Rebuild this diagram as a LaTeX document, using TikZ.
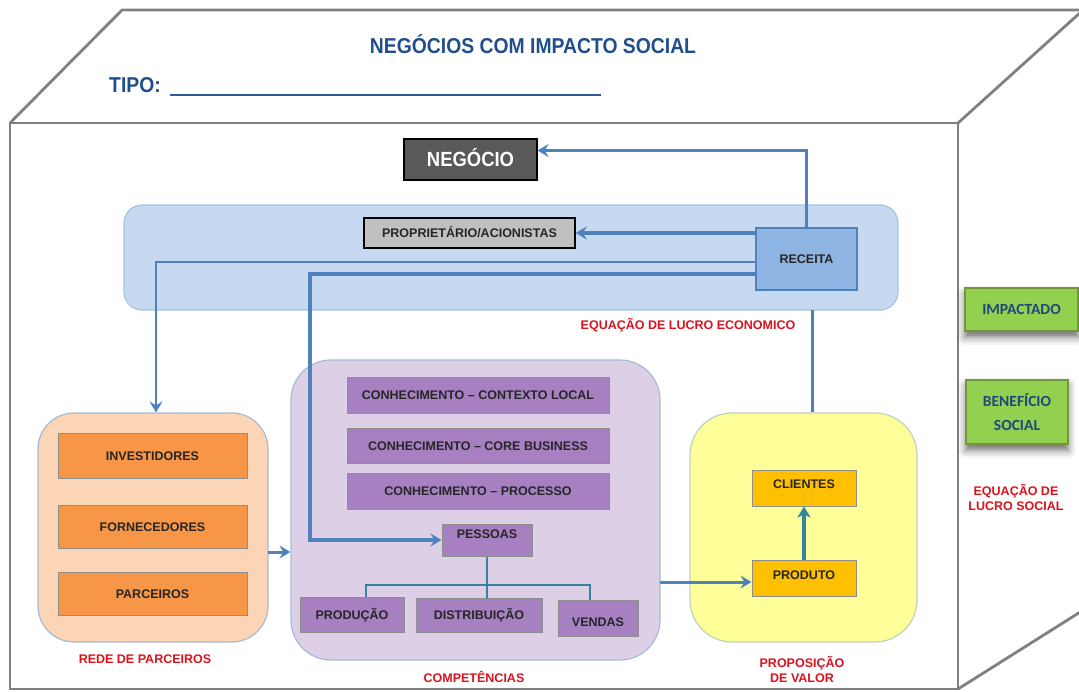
\documentclass[tikz,border=0pt]{standalone}
\usepackage{fontspec}
\setmainfont{Liberation Sans}
\newfontfamily\titlefont[FakeStretch=0.9]{Liberation Sans}
\newfontfamily\calfont{Carlito}
\usetikzlibrary{arrows.meta,shadows.blur}
\definecolor{cubegray}{HTML}{808080}
\definecolor{titleblue}{HTML}{1F4E8A}
\definecolor{lineblue}{HTML}{2E5C9A}
\definecolor{arrblue}{HTML}{4F81BD}
\definecolor{bandfill}{HTML}{C6D9F1}
\definecolor{bandline}{HTML}{A7C3E2}
\definecolor{recfill}{HTML}{8DB4E2}
\definecolor{orcont}{HTML}{FBD5B5}
\definecolor{contline}{HTML}{A3BCD6}
\definecolor{oritem}{HTML}{F79646}
\definecolor{itemline}{HTML}{8E8E8E}
\definecolor{pucont}{HTML}{DDCFE6}
\definecolor{puitem}{HTML}{A680C1}
\definecolor{yecont}{HTML}{FFFF99}
\definecolor{golditem}{HTML}{FFC000}
\definecolor{teal}{HTML}{31859C}
\definecolor{greenfill}{HTML}{92D050}
\definecolor{greenline}{HTML}{77933C}
\definecolor{greentext}{HTML}{1F497D}
\definecolor{labred}{HTML}{D7141E}
\definecolor{negfill}{HTML}{595959}
\definecolor{propfill}{HTML}{C0C0C0}
\definecolor{txt}{HTML}{262626}
\tikzset{
  cube/.style={draw=cubegray, line width=2.8pt},
  cont/.style={draw=contline, line width=1.2pt, inner sep=0pt},
  item/.style={draw=itemline, line width=1pt, inner sep=0pt, text=txt,
    text height=9pt, text depth=0pt, font=\bfseries\fontsize{12.5}{14}\selectfont},
  lab/.style={text=labred, font=\bfseries\fontsize{12.5}{15}\selectfont, align=center, inner sep=0pt},
  arr/.style={draw=arrblue, line width=3.4pt, -{Stealth[length=11pt,width=13pt,inset=4pt]}},
  plain/.style={draw=arrblue, line width=3pt},
  tree/.style={draw=teal, line width=1.8pt},
  greenbox/.style={fill=greenfill, draw=greenline, line width=2.4pt, inner sep=0pt,
    text=greentext, font=\calfont\bfseries\fontsize{15.5}{24}\selectfont, align=center,
    blur shadow={shadow xshift=0pt, shadow yshift=-6pt, shadow blur radius=8pt, shadow opacity=60}}
}
\begin{document}
\begin{tikzpicture}[x=1pt,y=-1pt]
\useasboundingbox (0,0) rectangle (1079,691);
\clip (0,0) rectangle (1079,691);
% cube
\draw[cube] (10,690) -- (10,123) -- (958,123) -- (958,690);
\draw[cube] (10,689) -- (958,689);
\draw[cube] (10,123) -- (122,10) -- (1085,10);
\draw[cube] (958,123) -- (1082,11);
\draw[cube] (958,689) -- (1085,609);
% title
\node (title) at (533,44) {\titlefont\bfseries\fontsize{21.5}{24}\selectfont\color{titleblue}NEGÓCIOS COM IMPACTO SOCIAL};
\node[anchor=west, inner sep=0pt] (tipo) at (109,85) {\titlefont\bfseries\fontsize{21.5}{24}\selectfont\color{titleblue}TIPO:};
\coordinate (u1) at (170,95);
\coordinate (u2) at (601,95);
\draw[lineblue, line width=1.6pt] (u1) -- (u2);
% containers
\node[cont, draw=bandline, fill=bandfill, rounded corners=18pt, minimum width=774pt, minimum height=105pt] (band) at (511,257.5) {};
\node[cont, fill=orcont, rounded corners=36pt, minimum width=230pt, minimum height=229pt] (rede) at (153,527.5) {};
\node[cont, fill=pucont, rounded corners=40pt, minimum width=369pt, minimum height=300pt] (purp) at (475.5,510) {};
\node[cont, draw=contline!70!yecont, fill=yecont, rounded corners=42pt, minimum width=227pt, minimum height=229pt] (yel) at (803.5,527.5) {};
% top items
\node[item, fill=negfill, draw=black, line width=1.2pt, text=white, font=\titlefont\bfseries\fontsize{20.5}{22}\selectfont, text height=14pt, minimum width=133pt, minimum height=41pt] (neg) at (470.5,159.5) {NEGÓCIO};
\node[item, fill=propfill, draw=black, line width=1.5pt, minimum width=211pt, minimum height=30pt] (prop) at (469.5,233) {PROPRIETÁRIO/ACIONISTAS};
\node[item, fill=recfill, draw=arrblue, line width=2.6pt, minimum width=101pt, minimum height=62pt] (rec) at (806.5,259) {RECEITA};
% rede items
\node[item, fill=oritem, minimum width=189pt, minimum height=45pt] (inv) at (152.5,455.5) {INVESTIDORES};
\node[item, fill=oritem, minimum width=189pt, minimum height=43pt] (forn) at (152.5,526.5) {FORNECEDORES};
\node[item, fill=oritem, minimum width=189pt, minimum height=43pt] (parc) at (152.5,593.5) {PARCEIROS};
% competencias items
\node[item, fill=puitem, minimum width=262pt, minimum height=36pt] (k1) at (478,395) {CONHECIMENTO – CONTEXTO LOCAL};
\node[item, fill=puitem, minimum width=262pt, minimum height=35pt] (k2) at (478,445.5) {CONHECIMENTO – CORE BUSINESS};
\node[item, fill=puitem, minimum width=262pt, minimum height=36pt] (k3) at (478,491) {CONHECIMENTO – PROCESSO};
\node[item, fill=puitem, text depth=12pt, minimum width=90pt, minimum height=32pt] (pes) at (487,540) {PESSOAS};
\node[item, fill=puitem, minimum width=104pt, minimum height=35pt] (prodc) at (352,614.5) {PRODUÇÃO};
\node[item, fill=puitem, minimum width=126pt, minimum height=34pt] (dist) at (479,615) {DISTRIBUIÇÃO};
\node[item, fill=puitem, text height=17pt, minimum width=80pt, minimum height=36pt] (vend) at (598,618) {VENDAS};
% valor items
\node[item, fill=golditem, text depth=8pt, minimum width=104pt, minimum height=36pt] (cli) at (804,488) {CLIENTES};
\node[item, fill=golditem, text depth=6pt, minimum width=104pt, minimum height=36pt] (prod) at (804,578) {PRODUTO};
% right face
\node[greenbox, minimum width=113pt, minimum height=43pt] (imp) at (1021.5,309.5) {IMPACTADO};
\node[greenbox, minimum width=102pt, minimum height=64pt] (ben) at (1017,412) {BENEFÍCIO\\SOCIAL};
% labels
\node[lab] (leco) at (688,325) {EQUAÇÃO DE LUCRO ECONOMICO};
\node[lab] (lrede) at (145,659) {REDE DE PARCEIROS};
\node[lab] (lcomp) at (474,677) {COMPETÊNCIAS};
\node[lab] (lval) at (802,669) {PROPOSIÇÃO\\DE VALOR};
\node[lab] (lsoc) at (1016,497) {EQUAÇÃO DE\\LUCRO SOCIAL};
% connectors
\draw[arr] (rec.north) |- ([yshift=9pt]neg.east);
\draw[arr] (rec.west |- prop.east) -- (prop.east);
\coordinate (c1) at (156,262);
\draw[arr, line width=2.6pt] (rec.west |- c1) -- (c1) -- (c1 |- rede.north);
\coordinate (c2) at (310,274);
\draw[arr, line width=3.8pt] (rec.west |- c2) -- (c2) -- (c2 |- pes.west) -- (pes.west);
\coordinate (c3) at (812,310);
\draw[plain] (c3) -- (c3 |- yel.north);
\coordinate (c4) at (268,552);
\draw[arr, line width=3pt] (c4) -- (c4 -| purp.west);
\coordinate (c5) at (660,582);
\draw[arr, line width=3pt] (c5) -- (c5 -| prod.west);
\draw[draw=teal, line width=4.6pt, -{Stealth[length=11pt,width=13pt,inset=3pt]}] (prod.north) -- (cli.south);
\coordinate (t1) at (366,585);
\coordinate (t2) at (590,585);
\draw[tree] (pes.south) -- (pes.south |- dist.north);
\draw[tree] (t1 |- prodc.north) -- (t1) -- (t2) -- (t2 |- vend.north);
\end{tikzpicture}
\end{document}
